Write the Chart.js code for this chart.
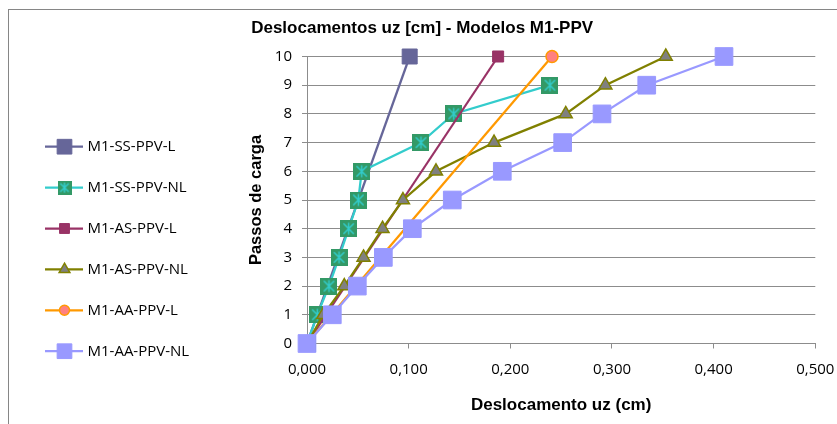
<!DOCTYPE html>
<html>
<head>
<meta charset="utf-8">
<script src="https://cdn.jsdelivr.net/npm/chart.js@4/dist/chart.umd.min.js"></script>
<style>
html,body{margin:0;padding:0;background:#fff;}
#wrap{width:837px;height:424px;}
</style>
</head>
<body>
<div id="wrap"><canvas id="c" width="837" height="424"></canvas></div>
<script>
// ---- data ----
const chartTitle = "Deslocamentos uz [cm] - Modelos M1-PPV";
const xTitle = "Deslocamento uz (cm)";
const yTitle = "Passos de carga";
const seriesNames = ["M1-SS-PPV-L","M1-SS-PPV-NL","M1-AS-PPV-L","M1-AS-PPV-NL","M1-AA-PPV-L","M1-AA-PPV-NL"];
const stepsL = [0, 10];
const stepsNL = [0,1,2,3,4,5,6,7,8,9,10];
const stepsSSNL = [0,1,2,3,4,5,6,7,8,9];
const ssL  = [0, 0.101];
const ssNL = [0, 0.0101, 0.0216, 0.0315, 0.0410, 0.0505, 0.0538, 0.1121, 0.1443, 0.2390];
const asL  = [0, 0.188];
const asNL = [0, 0.016, 0.0367, 0.0556, 0.0743, 0.0944, 0.1269, 0.1840, 0.2545, 0.2935, 0.3529];
const aaL  = [0, 0.241];
const aaNL = [0, 0.0249, 0.0495, 0.0751, 0.1036, 0.1429, 0.1921, 0.2515, 0.2902, 0.3342, 0.4102];
const xMin = 0, xMax = 0.5, xStep = 0.1;
const yMin = 0, yMax = 10, yStep = 1;

function pts(xs, ys){ return xs.map((x,i)=>({x:x, y:ys[i]})); }

function starImg(size){
  const c = document.createElement('canvas');
  c.width = size; c.height = size;
  const g = c.getContext('2d');
  g.fillStyle = '#339966';
  g.fillRect(0,0,size,size);
  g.strokeStyle = '#33CCCC';
  g.lineWidth = 1.5;
  const m = size/2, a = size*0.36;
  g.beginPath();
  g.moveTo(m, m-a); g.lineTo(m, m+a);
  g.moveTo(m-a*0.85, m-a*0.85); g.lineTo(m+a*0.85, m+a*0.85);
  g.moveTo(m+a*0.85, m-a*0.85); g.lineTo(m-a*0.85, m+a*0.85);
  g.stroke();
  return c;
}
const starBig = starImg(17);
const starSmall = starImg(14);

const styles = [
  {line:'#666699', fill:'#666699', border:'#666699', ps:'rect', r:10.6, lr:10.4, bw:1},
  {line:'#33CCCC', fill:'#339966', border:'#339966', ps:starBig, lps:starSmall, r:9, lr:8, bw:0},
  {line:'#993366', fill:'#993366', border:'#993366', ps:'rect', r:7.8, lr:7, bw:1},
  {line:'#808000', fill:'#808080', border:'#808000', ps:'triangle', r:7.5, lr:6.2, bw:1.5},
  {line:'#FF9900', fill:'#FF8080', border:'#FF9900', ps:'circle', r:6, lr:5, bw:1.5},
  {line:'#9999FF', fill:'#9999FF', border:'#9999FF', ps:'rect', r:12.5, lr:10.4, bw:1}
];
const seriesData = [pts(ssL, stepsL), pts(ssNL, stepsSSNL), pts(asL, stepsL), pts(asNL, stepsNL), pts(aaL, stepsL), pts(aaNL, stepsNL)];

const datasets = seriesNames.map((n,i)=>({
  label: n,
  data: seriesData[i],
  showLine: true,
  clip: false,
  borderColor: styles[i].line,
  borderWidth: 2.25,
  pointStyle: styles[i].ps,
  pointRadius: styles[i].r,
  pointHoverRadius: styles[i].r,
  pointBackgroundColor: styles[i].fill,
  pointBorderColor: styles[i].border,
  pointBorderWidth: styles[i].bw,
  order: seriesNames.length - 1 - i,
  tension: 0
}));

const frame = {
  id:'frame',
  beforeDraw(chart){
    const ctx = chart.ctx;
    ctx.save();
    ctx.fillStyle = '#fff';
    ctx.fillRect(0,0,chart.width,chart.height);
    ctx.strokeStyle = '#868686';
    ctx.lineWidth = 1;
    ctx.strokeRect(8.5, 9.5, chart.width + 20, chart.height + 20);
    ctx.restore();
  }
};

const sideLegend = {
  id:'sideLegend',
  afterDraw(chart){
    const ctx = chart.ctx;
    ctx.save();
    const y0 = 146.7, dy = 40.9;
    chart.data.datasets.forEach((ds,i)=>{
      const y = y0 + dy*i;
      const st = styles[i];
      ctx.strokeStyle = st.line;
      ctx.lineWidth = 2.25;
      ctx.beginPath();
      ctx.moveTo(45, y); ctx.lineTo(83, y);
      ctx.stroke();
      ctx.fillStyle = st.fill;
      ctx.strokeStyle = st.border;
      ctx.lineWidth = st.bw;
      Chart.helpers.drawPoint(ctx, {pointStyle: st.lps || st.ps, radius: st.lr, rotation: 0, borderWidth: st.bw}, 64.5, y);
      ctx.fillStyle = '#000';
      ctx.font = '15px "Open Sans"';
      ctx.textAlign = 'left';
      ctx.textBaseline = 'middle';
      ctx.fillText(ds.label, 87.5, y + 0.5);
    });
    ctx.restore();
  }
};

new Chart(document.getElementById('c'), {
  type: 'scatter',
  data: { datasets },
  plugins: [frame, sideLegend],
  options: {
    responsive: false,
    animation: false,
    events: [],
    layout: { padding: { left: 29, right: 21.7, top: 0, bottom: 0 } },
    plugins: {
      legend: { display: false },
      tooltip: { enabled: false },
      title: {
        display: true,
        text: chartTitle,
        color: '#000',
        font: { family: '"Liberation Sans", Arial, sans-serif', size: 17, weight: 'bold', lineHeight: 1.2 },
        padding: { top: 17.8, bottom: 18.3 }
      }
    },
    scales: {
      x: {
        type: 'linear',
        min: xMin, max: xMax,
        afterFit(s){ s.height = 424 - 343.5; s.paddingLeft = 0; s.paddingRight = 0; },
        ticks: {
          stepSize: xStep,
          color: '#000',
          padding: 12.5,
          maxRotation: 0,
          font: { family: '"Open Sans", sans-serif', size: 15, lineHeight: 1.2 },
          callback: v => Number(v).toFixed(3).replace('.', ',')
        },
        grid: { drawOnChartArea: false, drawTicks: true, tickLength: 5, color: '#8c8c8c', lineWidth: 1 },
        border: { display: true, color: '#8c8c8c', width: 1 },
        title: {
          display: true, text: xTitle, color: '#000',
          font: { family: '"Liberation Sans", Arial, sans-serif', size: 17, weight: 'bold', lineHeight: 1.2 },
          padding: { top: 0, bottom: 8.8 }
        }
      },
      y: {
        type: 'linear',
        min: yMin, max: yMax,
        afterFit(s){ s.width = 307 - 29; s.paddingTop = 0; s.paddingBottom = 0; },
        ticks: {
          stepSize: yStep,
          color: '#000',
          padding: 10,
          font: { family: '"Open Sans", sans-serif', size: 15, lineHeight: 1.2 }
        },
        grid: { drawTicks: true, tickLength: 5, color: '#8c8c8c', lineWidth: 1 },
        border: { display: true, color: '#8c8c8c', width: 1 },
        title: {
          display: true, text: yTitle, color: '#000',
          font: { family: '"Liberation Sans", Arial, sans-serif', size: 16.5, weight: 'bold', lineHeight: 1.2 },
          padding: { top: 217.1, bottom: 0 }
        }
      }
    }
  }
});
</script>
</body>
</html>
